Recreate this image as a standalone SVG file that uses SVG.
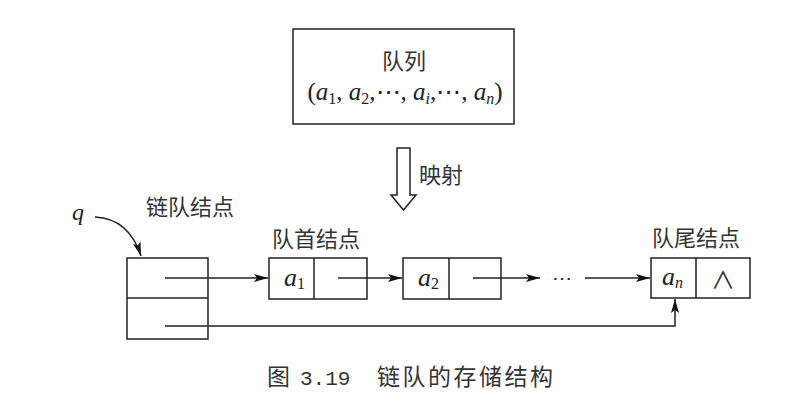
<svg xmlns="http://www.w3.org/2000/svg" width="799" height="415" viewBox="0 0 799 415">
<style>
.box{fill:none;stroke:#222;stroke-width:1.5}
.ln{fill:none;stroke:#222;stroke-width:1.5}
.cjk{font-family:"Noto Sans CJK SC","Noto Sans",sans-serif;fill:#333}
.m{font-family:"Liberation Serif",serif;fill:#222}
.i{font-style:italic}
</style>
<defs>
<marker id="ah" viewBox="0 0 14 8" refX="14" refY="4" markerWidth="14" markerHeight="8" markerUnits="userSpaceOnUse" orient="auto">
<path d="M0,0 L14,4 L0,8 L3,4 Z" fill="#111"/>
</marker>
</defs>
<rect width="799" height="415" fill="#fff"/>

<g id="queue">
<rect class="box" x="293" y="29" width="221" height="95"/>
<text class="cjk" x="404" y="69" font-size="22" text-anchor="middle">队列</text>
<text class="m" x="405" y="100" font-size="25" text-anchor="middle">(<tspan class="i">a</tspan><tspan font-size="16" dy="4">1</tspan><tspan dy="-4">, </tspan><tspan class="i">a</tspan><tspan font-size="16" dy="4">2</tspan><tspan dy="-4">,⋯, </tspan><tspan class="i">a</tspan><tspan class="i" font-size="16" dy="4">i</tspan><tspan dy="-4">,⋯, </tspan><tspan class="i">a</tspan><tspan class="i" font-size="16" dy="4">n</tspan><tspan dy="-4">)</tspan></text>
</g>

<g id="mapping">
<path class="ln" d="M397,148 L410,148 L410,195 L416,195 L403.5,210 L391,195 L397,195 Z" stroke-width="1.3"/>
<text class="cjk" x="419" y="183" font-size="22">映射</text>
</g>

<g id="linknode">
<text class="cjk" x="146" y="215" font-size="22">链队结点</text>
<rect class="box" x="127" y="258" width="81" height="81"/>
<line class="ln" x1="127" y1="298" x2="208" y2="298"/>
</g>

<g id="qptr">
<text class="m i" x="72" y="220" font-size="24">q</text>
</g>

<g id="node-a1">
<text class="cjk" x="272" y="247" font-size="22">队首结点</text>
<rect class="box" x="269" y="258" width="98" height="41"/>
<line class="ln" x1="314" y1="258" x2="314" y2="299"/>
<text class="m" x="284" y="286" font-size="26"><tspan class="i">a</tspan><tspan font-size="16" dy="3">1</tspan></text>
</g>

<g id="node-a2">
<rect class="box" x="403" y="258" width="98" height="41"/>
<line class="ln" x1="449" y1="258" x2="449" y2="299"/>
<text class="m" x="418" y="286" font-size="26"><tspan class="i">a</tspan><tspan font-size="16" dy="3">2</tspan></text>
</g>

<g id="dots">
<text class="m" x="562" y="285" font-size="20" text-anchor="middle">⋯</text>
</g>

<g id="node-an">
<text class="cjk" x="652" y="246" font-size="22">队尾结点</text>
<rect class="box" x="651" y="258" width="99" height="40"/>
<line class="ln" x1="696" y1="258" x2="696" y2="298"/>
<text class="m" x="662" y="285" font-size="26"><tspan class="i">a</tspan><tspan class="i" font-size="16" dy="3">n</tspan></text>
<text font-family="'Noto Sans CJK SC',sans-serif" fill="#333" x="723" y="289" font-size="24" text-anchor="middle">∧</text>
</g>

<g id="connectors">
<path class="ln" d="M95,217 C115,218 132,228 141,256" marker-end="url(#ah)"/>
<line class="ln" x1="165" y1="278" x2="268" y2="278" marker-end="url(#ah)"/>
<line class="ln" x1="338" y1="278" x2="402" y2="278" marker-end="url(#ah)"/>
<line class="ln" x1="473" y1="278" x2="540" y2="278" marker-end="url(#ah)"/>
<line class="ln" x1="585" y1="278" x2="650" y2="278" marker-end="url(#ah)"/>
<path class="ln" d="M165,326 L675,326 L675,299" marker-end="url(#ah)"/>
</g>

<g id="caption">
<text class="cjk" x="267" y="385" font-size="23">图</text>
<text font-family="Liberation Mono,monospace" x="300" y="385" font-size="21" fill="#333">3.19</text>
<text class="cjk" x="377" y="385" font-size="23" letter-spacing="2.5">链队的存储结构</text>
</g>
</svg>
